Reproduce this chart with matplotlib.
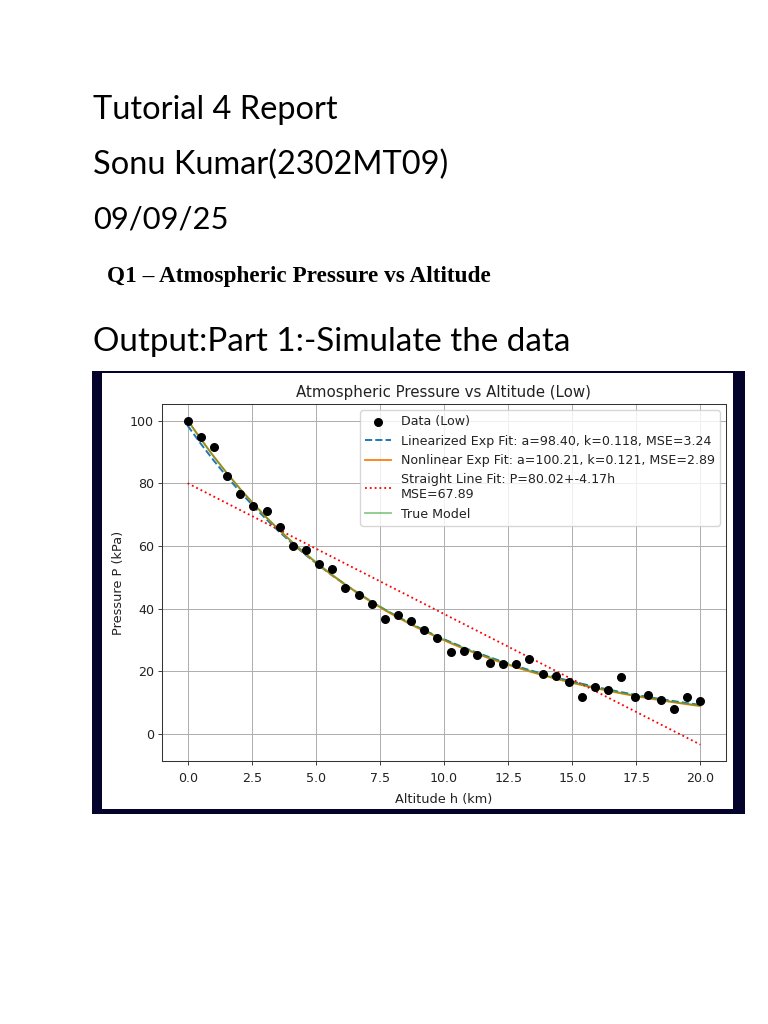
import numpy as np
import matplotlib
matplotlib.use("Agg")
import matplotlib.pyplot as plt
from matplotlib.patches import Rectangle

# ---------------- data ----------------
altitude_km = np.linspace(0, 20, 40)
pressure_kpa = [100.0, 94.9, 91.6, 82.3, 76.7, 72.6, 71.1, 66.0, 60.1, 58.7,
                54.3, 52.8, 46.5, 44.3, 41.5, 36.8, 38.0, 36.0, 33.2, 30.5,
                26.3, 26.5, 25.1, 22.8, 22.5, 22.4, 24.0, 19.2, 18.4, 16.6,
                11.8, 14.9, 14.2, 18.1, 11.7, 12.4, 11.0, 8.0, 11.8, 10.7]

lin_a, lin_k, lin_mse = 98.40, 0.118, 3.24
nl_a, nl_k, nl_mse = 100.21, 0.121, 2.89
line_b0, line_b1, line_mse = 80.02, -4.17, 67.89
true_a, true_k = 100.0, 0.12

x_ticks = [0.0, 2.5, 5.0, 7.5, 10.0, 12.5, 15.0, 17.5, 20.0]
y_ticks = [0, 20, 40, 60, 80, 100]

header_lines = ["Tutorial 4 Report", "Sonu Kumar(2302MT09)", "09/09/25"]
question_title = "Q1 \u2013 Atmospheric Pressure vs Altitude"
output_line = "Output:Part 1:-Simulate the data"

# ---------------- page ----------------
W, H = 768, 1024
fig = plt.figure(figsize=(W / 100, H / 100), dpi=100)
fig.patch.set_facecolor("white")
renderer = fig.canvas.get_renderer()


def fx(px):
    return px / W


def fy(py):
    return 1 - py / H


def fit_text(s, x_px, base_px, width_px, **kw):
    t = fig.text(fx(x_px), fy(base_px), s, ha="left", va="baseline",
                 fontsize=20, **kw)
    w = t.get_window_extent(renderer).width
    t.set_fontsize(20 * width_px / w)
    return t


calib = dict(family=["Lato", "DejaVu Sans"], color="black")
fit_text(header_lines[0], 93, 119, 245, **calib)
fit_text(header_lines[1], 93, 174, 355, **calib)
fit_text(header_lines[2], 93, 228, 135, **calib)
fit_text(question_title, 107, 282, 385,
         family=["Liberation Serif", "DejaVu Serif"], weight="bold", color="black")
fit_text(output_line, 93, 351, 478, **calib)

# embedded image frame (navy border)
navy = "#03032b"
fig.patches.append(Rectangle((fx(92), fy(814)), (745 - 92) / W, (814 - 371) / H,
                             transform=fig.transFigure, facecolor=navy,
                             edgecolor="none", zorder=0))
fig.patches.append(Rectangle((fx(102), fy(809)), (733 - 102) / W, (809 - 373) / H,
                             transform=fig.transFigure, facecolor="white",
                             edgecolor="none", zorder=0.5))

# ---------------- chart ----------------
sc = 0.82
fs = 9.1
ax = fig.add_axes([fx(162), fy(761), (726 - 162) / W, (761 - 404) / H])
ax.set_zorder(2)
h = np.asarray(altitude_km)
ax.scatter(h, pressure_kpa, s=30, color="black", label="Data (Low)", zorder=3)
ax.plot(h, lin_a * np.exp(-lin_k * h), "--", color="C0", lw=1.7 * sc,
        label=f"Linearized Exp Fit: a={lin_a:.2f}, k={lin_k:.3f}, MSE={lin_mse:.2f}")
ax.plot(h, nl_a * np.exp(-nl_k * h), "-", color="C1", lw=1.6 * sc,
        label=f"Nonlinear Exp Fit: a={nl_a:.2f}, k={nl_k:.3f}, MSE={nl_mse:.2f}")
ax.plot(h, line_b0 + line_b1 * h, ":", color="red", lw=1.6 * sc,
        label=f"Straight Line Fit: P={line_b0:.2f}+{line_b1:.2f}h\nMSE={line_mse:.2f}")
ax.plot(h, true_a * np.exp(-true_k * h), "-", color="C2", lw=1.6 * sc, alpha=0.55,
        label="True Model")

ax.set_xticks(x_ticks)
ax.set_yticks(y_ticks)
ax.set_xlim(-1.0, 21.0)
ax.set_ylim(-8.6, 105.3)
ax.grid(True, color="#b0b0b0", lw=0.9 * sc)
for sp in ax.spines.values():
    sp.set_linewidth(0.9 * sc)
    sp.set_color("#333333")
ax.tick_params(labelsize=fs, length=3.5 * sc, width=0.8 * sc,
               colors="#333333", labelcolor="#222222", pad=3.5 * sc)
ax.tick_params(axis="x", pad=5)
ax.set_title("Atmospheric Pressure vs Altitude (Low)", fontsize=10.8,
             color="#222222", pad=6 * sc)
ax.set_xlabel("Altitude h (km)", fontsize=9.3, color="#222222", labelpad=5.5)
ax.set_ylabel("Pressure P (kPa)", fontsize=9.3, color="#222222", labelpad=4 * sc)
leg = ax.legend(loc="upper right", fontsize=fs, handlelength=2.0)
for t in leg.get_texts():
    t.set_color("#222222")

fig.savefig("out.png", dpi=100)
